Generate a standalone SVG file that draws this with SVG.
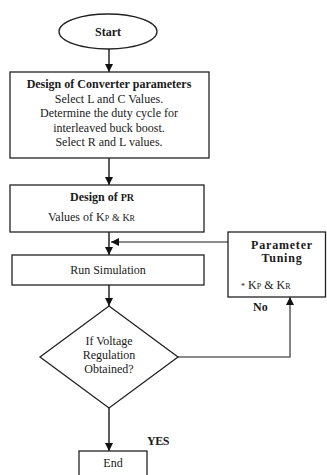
<svg xmlns="http://www.w3.org/2000/svg" width="327" height="475" viewBox="0 0 327 475">
  <style>
    .shape { fill: #ffffff; stroke: #222222; stroke-width: 1.3; }
    .txt { font-family: "Liberation Serif", "Times New Roman", serif; font-size: 12px; fill: #1a1a1a; }
    .b { font-weight: bold; }
    .mid { text-anchor: middle; }
    .link { fill: none; stroke: #333333; stroke-width: 1.6; }
    .back { fill: none; stroke: #666666; stroke-width: 1.6; }
  </style>
  <defs>
    <marker id="arrow" viewBox="0 0 10 10" refX="10" refY="5" markerWidth="8" markerHeight="8" markerUnits="userSpaceOnUse" orient="auto">
      <path d="M0,0 L10,5 L0,10 z" fill="#111111"/>
    </marker>
  </defs>
  <rect width="327" height="475" fill="#ffffff"/>

  <g id="connectors">
    <line class="link" x1="109" y1="49" x2="109" y2="72" marker-end="url(#arrow)"/>
    <line class="link" x1="109" y1="158" x2="109" y2="185" marker-end="url(#arrow)"/>
    <line class="link" x1="109" y1="232" x2="109" y2="255" marker-end="url(#arrow)"/>
    <line class="back" x1="228" y1="242" x2="111" y2="242" marker-end="url(#arrow)"/>
    <line class="link" x1="109" y1="285" x2="109" y2="306" marker-end="url(#arrow)"/>
    <polyline class="back" points="178,357 290,357 290,297" marker-end="url(#arrow)"/>
    <line class="link" x1="109" y1="408" x2="109" y2="451" marker-end="url(#arrow)"/>
  </g>

  <g id="start">
    <ellipse class="shape" cx="108" cy="31.5" rx="49" ry="17.5"/>
    <text class="txt b mid" x="108" y="36">Start</text>
  </g>

  <g id="converter-design">
    <rect class="shape" x="10" y="72" width="199" height="86"/>
    <text class="txt b mid" x="109" y="88" font-size="12.4">Design of Converter parameters</text>
    <text class="txt mid" x="109" y="102.5">Select L and C Values.</text>
    <text class="txt mid" x="109" y="117">Determine the duty cycle for</text>
    <text class="txt mid" x="109" y="131.5">interleaved buck boost.</text>
    <text class="txt mid" x="109" y="146">Select R and L values.</text>
  </g>

  <g id="pr-design">
    <rect class="shape" x="10" y="185" width="194" height="47"/>
    <text class="txt b" x="70" y="201">Design of <tspan font-size="10">PR</tspan></text>
    <text class="txt" x="48" y="221">Values of K<tspan font-size="8">P</tspan> <tspan font-size="10">&amp; K</tspan><tspan font-size="8">R</tspan></text>
  </g>

  <g id="run-simulation">
    <rect class="shape" x="12" y="255" width="192" height="30"/>
    <text class="txt mid" x="108" y="274">Run Simulation</text>
  </g>

  <g id="parameter-tuning">
    <rect class="shape" x="228" y="232" width="97.5" height="65"/>
    <text class="txt b mid" x="282" y="249" font-size="11" letter-spacing="0.8">Parameter</text>
    <text class="txt b mid" x="282" y="262" font-size="11" letter-spacing="0.8">Tuning</text>
    <text class="txt" x="241" y="289" font-size="11"><tspan font-size="8">*</tspan> K<tspan font-size="8">P</tspan> &amp; K<tspan font-size="8">R</tspan></text>
  </g>

  <g id="decision">
    <polygon class="shape" points="109,306 178,357 109,408 40,357"/>
    <text class="txt mid" x="109" y="345">If Voltage</text>
    <text class="txt mid" x="109" y="359">Regulation</text>
    <text class="txt mid" x="109" y="373">Obtained?</text>
  </g>

  <g id="end">
    <rect class="shape" x="79" y="451" width="68" height="30"/>
    <text class="txt mid" x="113" y="467">End</text>
  </g>

  <g id="labels">
    <text class="txt b" x="253" y="311" font-size="12.5">No</text>
    <text class="txt b" x="147" y="445" font-size="11" letter-spacing="-0.5">YES</text>
  </g>
</svg>
